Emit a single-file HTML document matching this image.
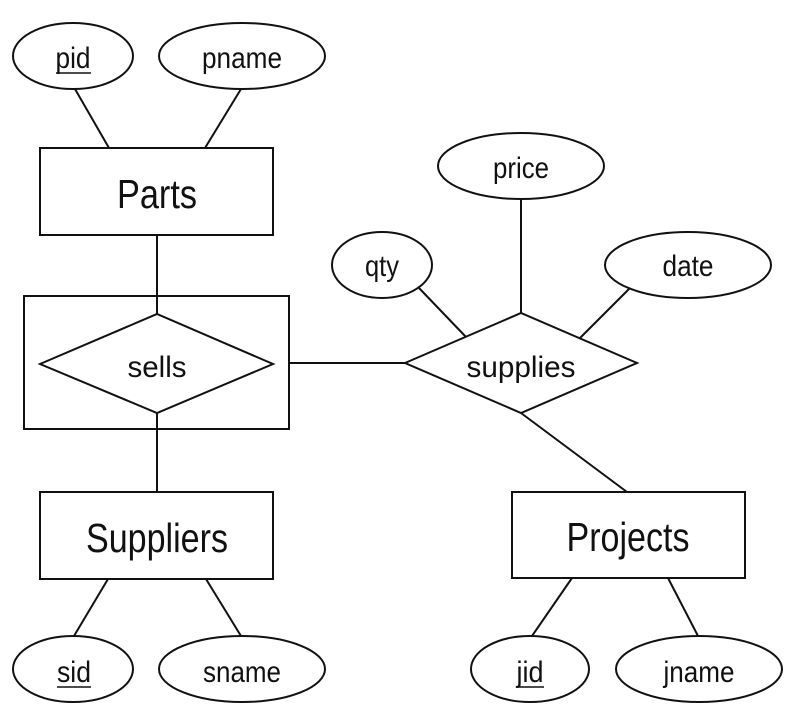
<!DOCTYPE html>
<html><head><style>html,body{margin:0;padding:0;background:#fff}svg{display:block}</style></head>
<body>
<svg width="808" height="726" viewBox="0 0 808 726" xmlns="http://www.w3.org/2000/svg">
<g fill="none" stroke="#111" stroke-width="2">
<ellipse cx="73" cy="56" rx="60" ry="33" fill="#fff"/>
<ellipse cx="242" cy="56" rx="83" ry="33" fill="#fff"/>
<rect x="40" y="148" width="233" height="87"/>
<line x1="75" y1="89" x2="109" y2="148"/>
<line x1="241" y1="89" x2="205" y2="148"/>
<line x1="157" y1="235" x2="157" y2="314"/>
<rect x="24" y="296" width="265" height="133"/>
<polygon points="40,364 157,314 273,364 157,413"/>
<line x1="157" y1="413" x2="157" y2="492"/>
<line x1="289" y1="363" x2="405" y2="363"/>
<polygon points="405,363 521,313 637,363 521,413"/>
<ellipse cx="521" cy="166" rx="83" ry="33"/>
<line x1="521" y1="199" x2="521" y2="313"/>
<ellipse cx="382" cy="265" rx="50" ry="33"/>
<ellipse cx="688" cy="265" rx="83" ry="33"/>
<line x1="419" y1="288" x2="466" y2="337"/>
<line x1="630" y1="288" x2="580" y2="338"/>
<line x1="521" y1="413" x2="627" y2="492"/>
<rect x="40" y="492" width="233" height="87"/>
<rect x="512" y="492" width="233" height="86"/>
<line x1="108" y1="579" x2="74" y2="636"/>
<line x1="206" y1="579" x2="241" y2="636"/>
<line x1="572" y1="578" x2="532" y2="636"/>
<line x1="668" y1="578" x2="698" y2="636"/>
<ellipse cx="73" cy="669" rx="60" ry="33"/>
<ellipse cx="242" cy="669" rx="83" ry="33"/>
<ellipse cx="530" cy="669" rx="59" ry="33"/>
<ellipse cx="699" cy="669" rx="83" ry="33"/>
<line x1="56" y1="73" x2="91" y2="73" stroke-width="1.5"/>
<line x1="57" y1="687" x2="91" y2="687" stroke-width="1.5"/>
<line x1="517" y1="687" x2="544" y2="687" stroke-width="1.5"/>
</g>
<g font-family="Liberation Sans, Arial, sans-serif" fill="#111" text-anchor="middle">
<g font-size="30">
<text x="73" y="68" textLength="35" lengthAdjust="spacingAndGlyphs">pid</text>
<text x="242" y="68" textLength="80" lengthAdjust="spacingAndGlyphs">pname</text>
<text x="157" y="377" textLength="59" lengthAdjust="spacingAndGlyphs">sells</text>
<text x="521" y="377" textLength="109" lengthAdjust="spacingAndGlyphs">supplies</text>
<text x="521" y="178" textLength="56" lengthAdjust="spacingAndGlyphs">price</text>
<text x="382" y="276" textLength="34" lengthAdjust="spacingAndGlyphs">qty</text>
<text x="688" y="276" textLength="51" lengthAdjust="spacingAndGlyphs">date</text>
<text x="74" y="682" textLength="34" lengthAdjust="spacingAndGlyphs">sid</text>
<text x="242" y="682" textLength="78" lengthAdjust="spacingAndGlyphs">sname</text>
<text x="530" y="682" textLength="27" lengthAdjust="spacingAndGlyphs">jid</text>
<text x="699" y="682" textLength="71" lengthAdjust="spacingAndGlyphs">jname</text>
</g>
<g font-size="41">
<text x="157" y="208" textLength="80" lengthAdjust="spacingAndGlyphs">Parts</text>
<text x="157" y="552" textLength="142" lengthAdjust="spacingAndGlyphs">Suppliers</text>
<text x="628" y="551" textLength="123" lengthAdjust="spacingAndGlyphs">Projects</text>
</g>
</g>
</svg>
</body></html>
